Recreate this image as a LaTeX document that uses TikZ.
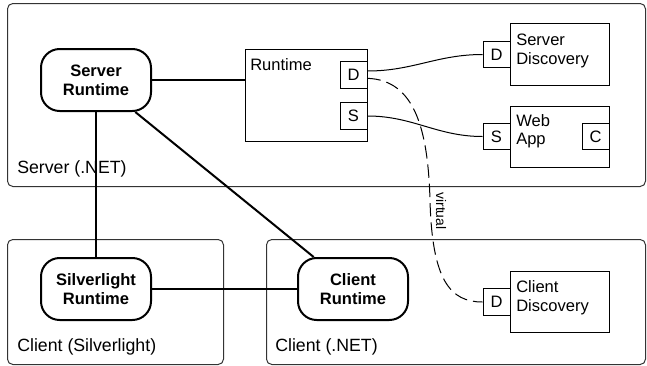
\documentclass[tikz,border=0pt]{standalone}
\usepackage{fontspec}
\setmainfont{Liberation Sans}
\begin{document}
\begin{tikzpicture}[x=0.75pt,y=-0.75pt,
  font=\fontsize{12.4}{14.25}\selectfont,
  cont/.style={draw=black!80, line width=0.75pt, rounded corners=4pt},
  rt/.style={draw, line width=1.5pt, rounded corners=14pt, minimum width=82.5pt, minimum height=46.5pt, align=center, font=\fontsize{12.4}{14.25}\selectfont\bfseries, inner sep=0pt},
  box/.style={draw, line width=0.75pt, fill=white, inner sep=0pt},
  port/.style={box, minimum width=20.25pt, minimum height=20pt},
  lbl/.style={anchor=base west, inner sep=0pt},
  clbl/.style={lbl, font=\fontsize{13.3}{15}\selectfont},
  thk/.style={line width=1.5pt},
  thn/.style={line width=0.75pt},
  virt/.style={line width=0.75pt, dash pattern=on 10pt off 4.5pt},
]
\useasboundingbox (0,0) rectangle (647,365);
% containers
\draw[cont] (7.5,3.5) rectangle (645.5,186.5);
\draw[cont] (7.5,239.5) rectangle (223.5,364.5);
\draw[cont] (266.5,239.5) rectangle (645.5,364.5);
\node[clbl] (srvlbl) at (17,173) {Server (.NET)};
\node[clbl] (sllbl) at (17,351) {Client (Silverlight)};
\node[clbl] (netlbl) at (275,351) {Client (.NET)};
% runtime nodes
\node[rt] (sr) at (96,80) {Server\\Runtime};
\node[rt] (slr) at (96,289) {Silverlight\\Runtime};
\node[rt] (cr) at (353,289) {Client\\Runtime};
% runtime box
\node[box, minimum width=91.5pt, minimum height=69pt] (rtbox) at (306,95) {};
\node[lbl] (rtlbl) at (250,70) {Runtime};
\node[port] (rtd) at (353.5,75) {D};
\node[port] (rts) at (353.5,116) {S};
% server discovery
\node[box, minimum width=74.25pt, minimum height=46.5pt] (sd) at (559.5,54) {};
\node[lbl] (sdl1) at (516,45) {Server};
\node[lbl] (sdl2) at (516,64) {Discovery};
\node[port] (sdd) at (496.5,54.5) {D};
% web app
\node[box, minimum width=74.25pt, minimum height=45.75pt] (wa) at (559.5,136.5) {};
\node[lbl] (wal1) at (516,126) {Web};
\node[lbl] (wal2) at (516,144) {App};
\node[port] (was) at (496.5,136.5) {S};
\node[port] (wac) at (595.5,136.5) {C};
% client discovery
\node[box, minimum width=74.25pt, minimum height=45.75pt] (cd) at (559.5,301.5) {};
\node[lbl] (cdl1) at (516,292) {Client};
\node[lbl] (cdl2) at (516,311) {Discovery};
\node[port] (cdd) at (496.5,302) {D};
% connectors
\draw[thk] (sr.east) -- (sr.east -| rtbox.west);
\draw[thk] (sr) -- (slr);
\draw[thk] (sr) -- (cr);
\draw[thk] (slr) -- (cr);
\draw[thn] ([yshift=3pt]rtd.east) to[out=0,in=180] (sdd.west);
\draw[thn] (rts.east) to[out=0,in=180] (was.west);
\coordinate (vmid) at (430,200);
\draw[virt] ([yshift=-2.5pt]rtd.east) .. controls (415,80) and (428,130) .. (vmid)
  .. controls (432,280) and (450,302) .. (cdd.west);
\node[rotate=-90, font=\fontsize{10.4}{12}\selectfont, inner sep=0pt] (vlbl) at (441,211) {virtual};
\end{tikzpicture}
\end{document}
